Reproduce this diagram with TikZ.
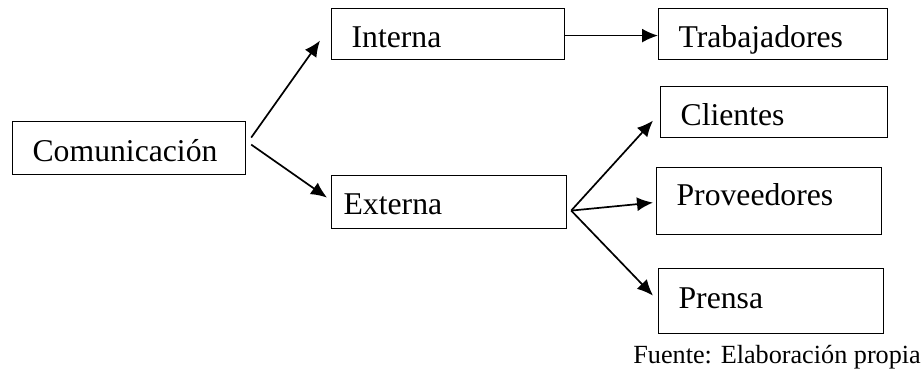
\documentclass[tikz,border=0pt]{standalone}
\usepackage{fontspec}
\setmainfont{Liberation Serif}
\usetikzlibrary{arrows.meta}

\begin{document}
\begin{tikzpicture}[x=1pt, y=-1pt, font=\fontsize{31.7}{38}\selectfont,
    caja/.style={draw, line width=1.2pt, anchor=north west, align=left,
      inner xsep=20pt, inner ysep=0pt, text height=26.4pt, text depth=0pt},
    flecha/.style={line width=1.7pt, -{Latex[length=16pt,width=14pt]}}]
  \useasboundingbox (0,0) rectangle (923,372);
  \node[caja, minimum width=233pt, minimum height=53pt, text width=193pt] (com) at (12,121) {Comunicación};
  \node[caja, minimum width=233pt, minimum height=51pt, text width=193pt] (int) at (331,8) {Interna};
  \node[caja, minimum width=235pt, minimum height=53pt, text width=211pt, inner xsep=12pt, text depth=2.4pt] (ext) at (331,175) {Externa};
  \node[caja, minimum width=229pt, minimum height=51pt, text width=189pt] (trab) at (658,8) {Trabajadores};
  \node[caja, minimum width=227pt, minimum height=51pt, text width=187pt] (cli) at (660,86) {Clientes};
  \node[caja, minimum width=225pt, minimum height=67pt, text width=185pt, text depth=17.4pt] (prov) at (656,167) {Proveedores};
  \node[caja, minimum width=225pt, minimum height=65pt, text width=185pt, text depth=10.8pt] (pren) at (658,268) {Prensa};
  \node[anchor=base east, inner sep=0pt, font=\fontsize{26.2}{32}\selectfont] (fuente) at (921,363) {Fuente: Elaboración propia};

  \coordinate (div) at ([xshift=4pt,yshift=-8.5pt]ext.east);
  \draw[flecha] ([xshift=5pt,yshift=10.5pt]com.east) -- ([xshift=-11pt,yshift=-6.5pt]int.west);
  \draw[flecha] ([xshift=5pt,yshift=3.5pt]com.east) -- ([xshift=-4pt,yshift=4.5pt]ext.west);
  \draw[flecha] ([yshift=-1.5pt]int.east) -- ([yshift=-1.5pt]trab.west);
  \draw[flecha] (div) -- ([xshift=-7pt,yshift=-8.5pt]cli.west);
  \draw[flecha] (div) -- ([xshift=-3pt,yshift=-1.5pt]prov.west);
  \draw[flecha] (div) -- ([xshift=-5pt,yshift=5.5pt]pren.west);
\end{tikzpicture}
\end{document}
